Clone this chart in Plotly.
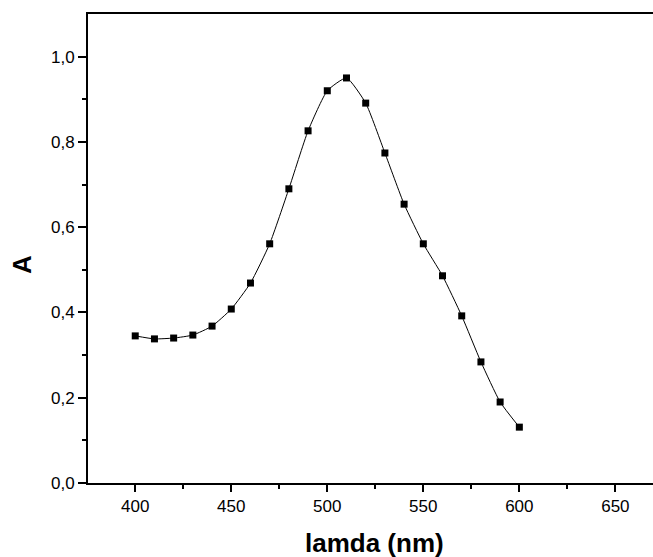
import plotly.graph_objects as go

wavelength = [400, 410, 420, 430, 440, 450, 460, 470, 480, 490, 500,
              510, 520, 530, 540, 550, 560, 570, 580, 590, 600]
absorbance = [0.345, 0.338, 0.340, 0.347, 0.368, 0.408, 0.469, 0.561, 0.690, 0.826, 0.920,
              0.950, 0.891, 0.774, 0.654, 0.561, 0.486, 0.392, 0.284, 0.190, 0.131]
x_ticks = [400, 450, 500, 550, 600, 650]
y_ticks = [0, 0.2, 0.4, 0.6, 0.8, 1.0]

fig = go.Figure()
fig.add_trace(go.Scatter(
    x=wavelength, y=absorbance, mode="lines+markers",
    line=dict(color="black", width=1, shape="spline", smoothing=0.5),
    marker=dict(symbol="square", size=7, color="black"),
    showlegend=False,
))

font = "Liberation Sans, Arial, sans-serif"
fig.update_layout(
    width=653, height=557,
    margin=dict(l=88, r=0, t=14, b=74),
    paper_bgcolor="white", plot_bgcolor="white",
    separators=",.",
    font=dict(family=font, size=17, color="black"),
    xaxis=dict(
        range=[375.4, 669.6], tickvals=x_ticks,
        ticks="outside", ticklen=7, tickwidth=1.5, tickcolor="black",
        showline=True, linewidth=2, linecolor="black", mirror=True,
        showgrid=False, zeroline=False,
        minor=dict(tickvals=[375, 425, 475, 525, 575, 625], ticks="outside",
                   ticklen=4, tickwidth=1.5, tickcolor="black", showgrid=False),
        tickfont=dict(size=17, family=font, color="black"),
    ),
    yaxis=dict(
        range=[0, 1.1], tickvals=y_ticks, tickformat=".1f",
        ticks="outside", ticklen=8, tickwidth=1.5, tickcolor="black",
        showline=True, linewidth=2, linecolor="black", mirror=False,
        showgrid=False, zeroline=False,
        minor=dict(tickvals=[0.1, 0.3, 0.5, 0.7, 0.9], ticks="outside",
                   ticklen=4, tickwidth=1.5, tickcolor="black", showgrid=False),
        tickfont=dict(size=17, family=font, color="black"),
    ),
    annotations=[
        dict(text="<b>lamda (nm)</b>", xref="paper", yref="paper", x=0.5, y=0,
             xanchor="center", yanchor="middle", xshift=4, yshift=-60,
             showarrow=False, font=dict(size=26, family=font, color="black")),
        dict(text="<b>A</b>", xref="paper", yref="paper", x=0, y=(483 - 265) / (483 - 14),
             xanchor="center", yanchor="middle", xshift=-66, textangle=-90,
             showarrow=False, font=dict(size=26, family=font, color="black")),
    ],
)

fig.write_html("out.html")
